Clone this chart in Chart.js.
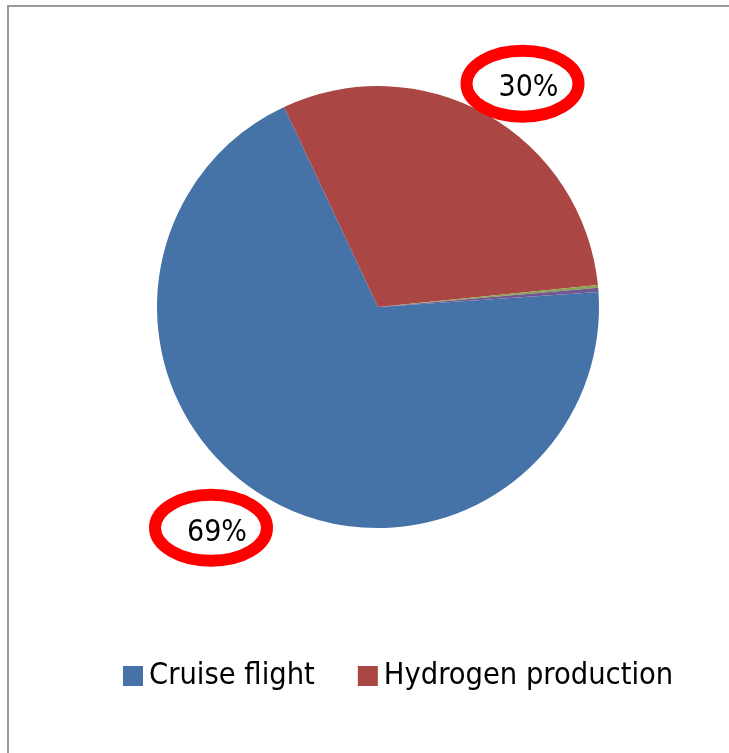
<!DOCTYPE html>
<html lang="en">
<head>
    <meta charset="UTF-8">
    <script src="https://cdn.jsdelivr.net/npm/chart.js"></script>
    <title>Energy share</title>
    <style>
        html, body {
            margin: 0;
            padding: 0;
            background: #fff;
            overflow: hidden;
        }

        .frame {
            position: absolute;
            left: 7px;
            top: 5px;
            width: 800px;
            height: 800px;
            border: 2px solid #9a9a9a;
        }

        #pieChart {
            position: absolute;
            left: 0;
            top: 0;
        }
    </style>
</head>
<body>

    <div class="frame"></div>
    <canvas id="pieChart" width="729" height="753"></canvas>

    <script>
        // Share of energy per phase (percent)
        const phases = ["Cruise flight", "Hydrogen production", "", ""];
        const shares = [69.1, 30.4, 0.2, 0.3];
        const colors = ["#4572a7", "#aa4643", "#89a54e", "#71588f"];

        const FONT = "'DejaVu Sans Condensed', 'DejaVu Sans', sans-serif";
        const labelDist = [1.255, 1.2]; // label distance, in radii

        // percent labels with a red ring around them, placed just outside the slice
        const ringLabels = {
            id: "ringLabels",
            afterDatasetsDraw(chart) {
                const ctx = chart.ctx;
                const meta = chart.getDatasetMeta(0);
                const total = shares.reduce((a, b) => a + b, 0);
                ctx.save();
                meta.data.forEach((arc, i) => {
                    const pct = Math.round(shares[i] / total * 100);
                    if (pct < 1) return;
                    const mid = (arc.startAngle + arc.endAngle) / 2 + 5 * Math.PI / 180;
                    const d = arc.outerRadius * labelDist[i];
                    const tx = arc.x + Math.cos(mid) * d;
                    const ty = arc.y + Math.sin(mid) * d;

                    ctx.beginPath();
                    ctx.ellipse(tx - 6, ty - 5, 56, 33, 0, 0, Math.PI * 2);
                    ctx.lineWidth = 12;
                    ctx.strokeStyle = "#ff0000";
                    ctx.stroke();

                    ctx.fillStyle = "#000";
                    ctx.font = "30px " + FONT;
                    ctx.textAlign = "center";
                    ctx.textBaseline = "middle";
                    ctx.fillText(pct + "%", tx, ty);
                });
                ctx.restore();
            }
        };

        // legend row under the pie
        const bottomLegend = {
            id: "bottomLegend",
            afterDraw(chart) {
                const ctx = chart.ctx;
                const box = 20;
                let x = 123;
                const y = 676;
                ctx.save();
                ctx.font = "30.5px " + FONT;
                ctx.textBaseline = "middle";
                ctx.textAlign = "left";
                phases.forEach((name, i) => {
                    if (!name) return;
                    ctx.fillStyle = colors[i];
                    ctx.fillRect(x, y - box / 2, box, box);
                    x += box + 6;
                    ctx.fillStyle = "#000";
                    ctx.fillText(name, x, y);
                    x += ctx.measureText(name).width + 43;
                });
                ctx.restore();
            }
        };

        const ctx1 = document.getElementById("pieChart").getContext("2d");
        new Chart(ctx1, {
            type: "pie",
            data: {
                labels: phases,
                datasets: [{
                    data: shares,
                    backgroundColor: colors,
                    borderWidth: 0
                }]
            },
            options: {
                responsive: false,
                animation: false,
                rotation: 86.1,
                layout: {
                    padding: { left: 157, right: 130, top: 86, bottom: 225 }
                },
                plugins: {
                    legend: { display: false },
                    tooltip: { enabled: false }
                }
            },
            plugins: [ringLabels, bottomLegend]
        });
    </script>

</body>
</html>
